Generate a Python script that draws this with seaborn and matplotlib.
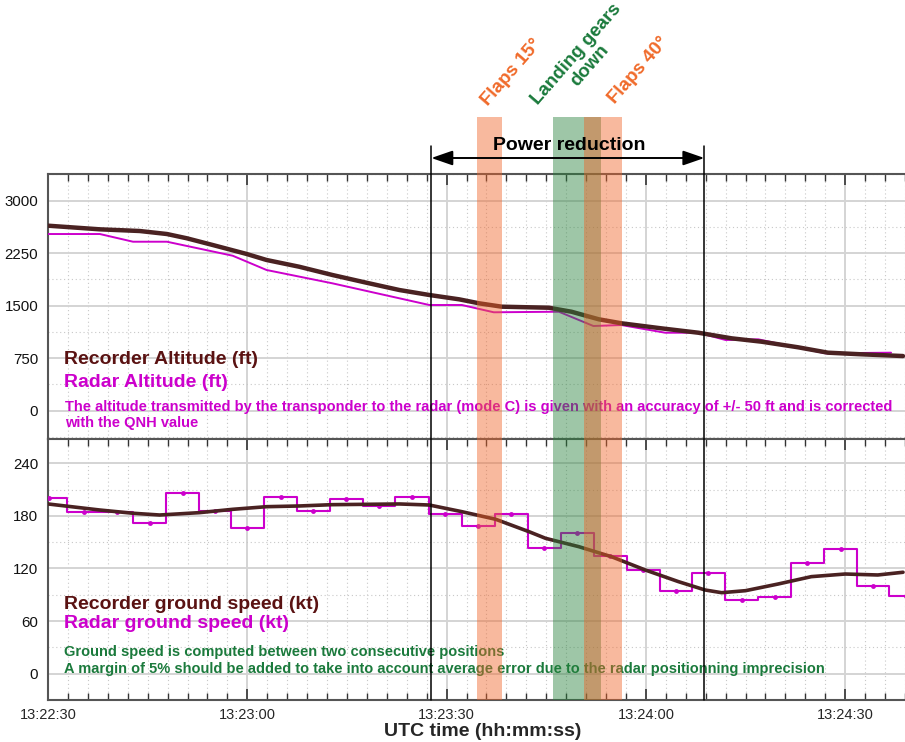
import matplotlib
matplotlib.use("Agg")
import matplotlib.pyplot as plt
import seaborn as sns
import pandas as pd
from matplotlib.transforms import blended_transform_factory
from matplotlib.patches import Rectangle, FancyArrowPatch
from matplotlib.lines import Line2D

# ---------------- data (time in seconds after 13:22:30 UTC) ----------------
rec_alt_t = [0.0, 7.8, 13.8, 17.9, 20.9, 24.8, 29.9, 32.9, 37.8, 42.8, 47.9, 52.9, 57.4,
             61.9, 64.9, 68.3, 75.4, 78.8, 82.9, 86.3, 92.3, 97.9, 102.9, 107.4, 112.9,
             117.4, 122.4, 128.7]
rec_alt_v = [2643, 2591, 2567, 2524, 2463, 2367, 2239, 2153, 2057, 1939, 1829, 1724, 1653,
             1591, 1534, 1486, 1471, 1414, 1306, 1249, 1177, 1114, 1034, 986, 906,
             829, 806, 781]

radar_alt_t = [0.0, 7.8, 12.8, 17.9, 27.8, 32.9, 42.8, 57.4, 62.3, 67.1, 76.9, 82.1, 86.3,
               92.9, 97.9, 102.0, 106.9, 117.0, 126.9]
radar_alt_v = [2524, 2524, 2414, 2414, 2214, 2010, 1820, 1510, 1510, 1406, 1414, 1210, 1224,
               1114, 1114, 1010, 1020, 820, 829]

rec_gs_t = [0.0, 7.8, 12.8, 16.8, 22.8, 27.8, 32.9, 37.8, 42.8, 47.9, 52.9, 57.4, 62.3,
            67.4, 72.4, 74.9, 79.9, 84.8, 89.9, 94.9, 98.9, 101.4, 105.0, 109.9, 114.9,
            120.0, 124.9, 128.7]
rec_gs_v = [193.6, 186.7, 183.0, 181.0, 183.7, 187.5, 190.5, 191.3, 192.8, 193.2, 193.6,
            192.4, 184.8, 176.1, 162.0, 154.4, 144.9, 133.5, 118.3, 105.0, 95.5, 92.4,
            94.7, 102.3, 110.7, 113.7, 112.6, 115.7]

radar_gs_t = [0.2, 5.4, 10.4, 15.3, 20.3, 25.2, 30.0, 35.1, 39.9, 44.9, 49.8, 54.8, 59.8,
              64.8, 69.7, 74.7, 79.7, 84.6, 89.6, 94.5, 99.4, 104.4, 109.4, 114.3, 119.3,
              124.2, 129.1]
radar_gs_v = [200, 184, 184, 172, 206, 186, 166, 201, 186, 199, 191, 202, 182,
              169, 182, 143, 160, 134, 118, 94, 115, 84, 88, 126, 142,
              100, 89]

xtick_pos = [0, 30, 60, 90, 120]
xtick_labels = ["13:22:30", "13:23:00", "13:23:30", "13:24:00", "13:24:30"]
alt_ticks = [0, 750, 1500, 2250, 3000]
gs_ticks = [0, 60, 120, 180, 240]

power_reduction = (57.7, 98.8)
flaps15_band = (64.5, 68.4)
gear_band = (76.0, 83.3)
flaps40_band = (80.7, 86.4)

# ---------------- style ----------------
sns.set_style("white")
plt.rcParams["font.family"] = ["Liberation Sans", "DejaVu Sans"]

REC = "#4a2222"
REC_TXT = "#5a1212"
RAD = "#cc00cc"
GREEN_TXT = "#1b7a3c"
ORANGE_TXT = "#f06a2a"

W, H = 905, 742
fig = plt.figure(figsize=(W / 100, H / 100), dpi=100)
left = 48 / W
ax1 = fig.add_axes([left, 1 - 439 / H, 1 - left, (439 - 174.3) / H])
ax2 = fig.add_axes([left, 1 - 700 / H, 1 - left, (700 - 439) / H], sharex=ax1)

df_ra = pd.DataFrame({"t": rec_alt_t, "v": rec_alt_v})
df_da = pd.DataFrame({"t": radar_alt_t, "v": radar_alt_v})
df_rg = pd.DataFrame({"t": rec_gs_t, "v": rec_gs_v})
df_dg = pd.DataFrame({"t": radar_gs_t, "v": radar_gs_v})

sns.lineplot(data=df_da, x="t", y="v", ax=ax1, color=RAD, lw=1.4, zorder=3)
sns.lineplot(data=df_ra, x="t", y="v", ax=ax1, color=REC, lw=3.2, zorder=4)
sns.lineplot(data=df_dg, x="t", y="v", ax=ax2, color=RAD, lw=1.5, zorder=3,
             drawstyle="steps-mid", marker="o", markersize=3.5, markeredgewidth=0)
sns.lineplot(data=df_rg, x="t", y="v", ax=ax2, color=REC, lw=2.6, zorder=4)

minor_x = [i * 3 for i in range(0, 44)]
for ax, yt, ylim, ystep in ((ax1, alt_ticks, (-404, 3377), 375), (ax2, gs_ticks, (-30, 267.7), 30)):
    ax.set_xlim(0, 128.7)
    ax.set_ylim(*ylim)
    ax.set_xticks(xtick_pos)
    ax.set_xticks(minor_x, minor=True)
    ax.set_yticks(yt)
    ax.set_yticks([ystep * k for k in range(-1, 10) if ylim[0] <= ystep * k <= ylim[1]], minor=True)
    ax.grid(which="major", color="#d4d4d4", lw=1.4, ls="-", zorder=0)
    ax.grid(which="minor", color="#c8c8c8", lw=0.8, ls=(0, (1, 2.5)), zorder=0)
    ax.set_axisbelow(True)
    ax.set_xlabel("")
    ax.set_ylabel("")
    for s in ("left", "top", "bottom"):
        ax.spines[s].set_color("#555555")
        ax.spines[s].set_linewidth(1.5)
    ax.spines["right"].set_visible(False)
    ax.tick_params(axis="y", which="major", direction="out", length=6, width=1.2,
                   color="#444444", labelsize=10.8, labelcolor="#111111", pad=1)
    ax.tick_params(axis="y", which="minor", length=0)
    ax.tick_params(axis="x", which="major", direction="in", length=8, width=1.2, color="#333333")
    ax.tick_params(axis="x", which="minor", direction="in", length=5, width=1.0, color="#333333")

ax1.tick_params(axis="x", which="both", top=True, bottom=False, labelbottom=False)
ax2.tick_params(axis="x", which="both", top=True, bottom=True, labelbottom=True,
                labelsize=10.5, pad=6)
ax2.set_xticks(xtick_pos, xtick_labels)
ax2.set_xlabel("UTC time (hh:mm:ss)", fontsize=14, fontweight="bold", va="center")
ax2.xaxis.set_label_coords(0.507, (700 - 732) / 261)

# panel texts
ax1.text(2.4, 734, "Recorder Altitude (ft)", color=REC_TXT, fontsize=14, fontweight="bold", va="center")
ax1.text(2.4, 400, "Radar Altitude (ft)", color=RAD, fontsize=14, fontweight="bold", va="center")
ax1.text(2.6, 57, "The altitude transmitted by the transponder to the radar (mode C) is given with an accuracy of +/- 50 ft and is corrected",
         color=RAD, fontsize=10.5, fontweight="bold", va="center")
ax1.text(2.6, -180, "with the QNH value", color=RAD, fontsize=10.5, fontweight="bold", va="center")

ax2.text(2.4, 78.4, "Recorder ground speed (kt)", color=REC_TXT, fontsize=14, fontweight="bold", va="center")
ax2.text(2.4, 57.5, "Radar ground speed (kt)", color=RAD, fontsize=14, fontweight="bold", va="center")
ax2.text(2.4, 25.1, "Ground speed is computed between two consecutive positions",
         color=GREEN_TXT, fontsize=10.5, fontweight="bold", va="center")
ax2.text(2.4, 5.0, "A margin of 5% should be added to take into account average error due to the radar positionning imprecision",
         color=GREEN_TXT, fontsize=10.5, fontweight="bold", va="center")

# bands spanning both panels and above
bt = blended_transform_factory(ax2.transData, fig.transFigure)
yb, yt_ = 1 - 700 / H, 1 - 117 / H
for (a, b), col in ((flaps15_band, "#f06428"), (gear_band, "#28823c"), (flaps40_band, "#f06428")):
    fig.add_artist(Rectangle((a, yb), b - a, yt_ - yb, transform=bt, facecolor=col,
                             alpha=0.45, lw=0, zorder=5))

# power reduction
for xv in power_reduction:
    fig.add_artist(Line2D([xv, xv], [yb, 1 - 146 / H], transform=bt, color="black", lw=1.1, zorder=6))
fig.add_artist(FancyArrowPatch((power_reduction[0], 1 - 158 / H), (power_reduction[1], 1 - 158 / H),
                               transform=bt, arrowstyle="<|-|>,head_length=1.3,head_width=0.45",
                               mutation_scale=10, color="black", lw=1.4, shrinkA=0, shrinkB=0, zorder=6))
fig.text(sum(power_reduction) / 2 + 0.2, 1 - 146 / H, "Power reduction", transform=bt, ha="center",
         va="center", fontsize=14, fontweight="bold", color="black", zorder=7)

# event labels
fig.text(512 / W, 1 - 72 / H, "Flaps 15°", rotation=49, ha="center", va="center",
         fontsize=13.5, fontweight="bold", color=ORANGE_TXT)
fig.text(583 / W, 1 - 60 / H, "Landing gears\ndown", rotation=49, ha="center", va="center",
         multialignment="center", fontsize=13.5, fontweight="bold", color=GREEN_TXT, linespacing=1.0)
fig.text(639 / W, 1 - 70 / H, "Flaps 40°", rotation=49, ha="center", va="center",
         fontsize=13.5, fontweight="bold", color=ORANGE_TXT)

fig.savefig("out.png", dpi=100)
